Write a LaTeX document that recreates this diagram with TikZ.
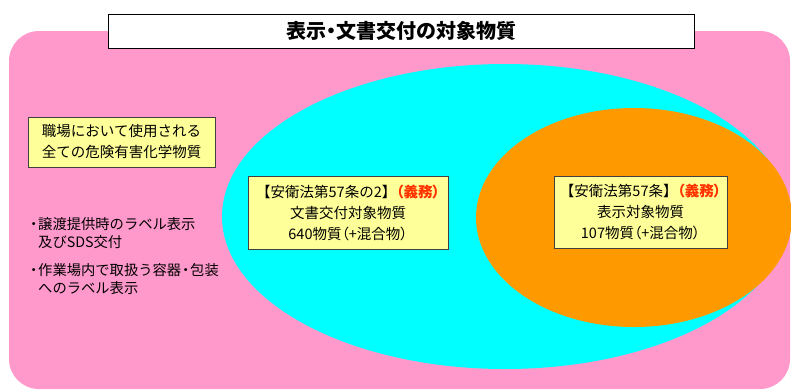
\documentclass[tikz,border=0pt]{standalone}
\usepackage{fontspec}
\setmainfont{Noto Sans CJK JP}
\newfontfamily\pfont[RawFeature={+palt}]{Noto Sans CJK JP}
\usetikzlibrary{shapes.geometric}
\definecolor{pinkbg}{HTML}{FF99CC}
\definecolor{cyanbg}{HTML}{00FFFF}
\definecolor{orangebg}{HTML}{FF9900}
\definecolor{yellowbox}{HTML}{FFFF99}
\definecolor{duty}{HTML}{FF3300}
\definecolor{boxline}{HTML}{404040}
\tikzset{
  ybox/.style={draw=boxline, line width=0.9pt, fill=yellowbox, align=center, inner sep=0pt,
    font=\fontsize{14.5}{21}\selectfont},
  plain/.style={align=left, inner sep=0pt, anchor=north west, font=\fontsize{14.3}{18}\selectfont},
}
\newcommand{\gimu}{{\pfont\textcolor{duty}{\bfseries（義務）}}}
\newcommand{\lp}{{\pfont （}}
\newcommand{\rp}{{\pfont ）}}
\newcommand{\nbul}{\makebox[9pt]{・}}
\begin{document}
\begin{tikzpicture}[x=1pt,y=-1pt]
\useasboundingbox (0,0) rectangle (791,389);
\begin{scope}
\clip (0,0) rectangle (791,389);
\fill[pinkbg, rounded corners=30pt] (9,31) rectangle (790,389);
\node[ellipse, fill=cyanbg, minimum width=566pt, minimum height=305pt, inner sep=0pt] (all) at (505,216.5) {};
\node[ellipse, fill=orangebg, minimum width=316pt, minimum height=219pt, inner sep=0pt] (label) at (634,217.5) {};
\end{scope}
\node[draw=black, fill=white, line width=1pt, minimum width=586pt, minimum height=34pt, inner sep=0pt,
  font=\fontsize{20}{24}\selectfont\bfseries] (title) at (401,31) {表示\makebox[10pt]{・}文書交付の対象物質};
\node[ybox, minimum width=187pt, minimum height=50pt] (workplace) at (121.5,142) {職場において使用される\\全ての危険有害化学物質};
\node[ybox, minimum width=200pt, minimum height=73pt] (sds) at (348,212.5) {【安衛法第57条の2】\gimu\\文書交付対象物質\\640物質\lp+混合物\rp};
\node[ybox, minimum width=173pt, minimum height=72pt] (lab) at (640.5,212) {【安衛法第57条】\gimu\\表示対象物質\\107物質\lp+混合物\rp};
\node[plain] (b1) at (29,217) {\nbul 譲渡提供時のラベル表示\\\hspace{9pt}及びSDS交付};
\node[plain] (b2) at (29,263) {\nbul 作業場内で取扱う容器\makebox[9pt]{・}包装\\\hspace{9pt}へのラベル表示};
\end{tikzpicture}
\end{document}
